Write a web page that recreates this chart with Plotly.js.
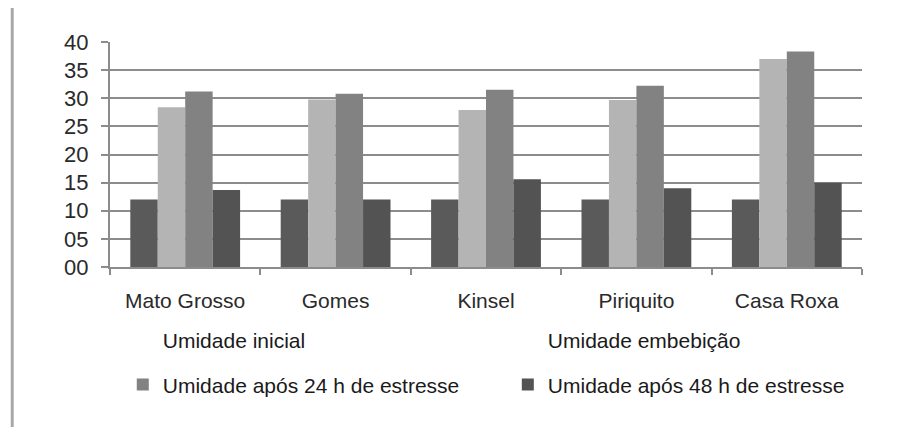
<!DOCTYPE html>
<html>
<head>
<meta charset="utf-8">
<script src="https://cdn.plot.ly/plotly-3.0.1.min.js"></script>
<style>html,body{margin:0;padding:0;background:#fff;}</style>
</head>
<body>
<div id="chart" style="width:915px;height:427px;"></div>
<script>
const categories = ["Mato Grosso", "Gomes", "Kinsel", "Piriquito", "Casa Roxa"];
const seriesNames = ["Umidade inicial", "Umidade embebição", "Umidade após 24 h de estresse", "Umidade após 48 h de estresse"];
const umidadeInicial = [12.0, 12.0, 12.0, 12.0, 12.0];
const umidadeEmbebicao = [28.4, 29.8, 27.9, 29.7, 37.0];
const umidade24h = [31.2, 30.8, 31.5, 32.2, 38.3];
const umidade48h = [13.7, 12.0, 15.6, 14.0, 15.0];
const yTickVals = [0, 5, 10, 15, 20, 25, 30, 35, 40];
const yTickText = ["00", "05", "10", "15", "20", "25", "30", "35", "40"];

const colors = ["#5a5a5a", "#b4b4b4", "#828282", "#535353"];
const font = "Liberation Sans, Arial, sans-serif";
const legendIds = ["legend", "legend2", "legend3", "legend4"];

const seriesValues = [umidadeInicial, umidadeEmbebicao, umidade24h, umidade48h];
const traces = seriesValues.map((vals, i) => ({
  type: "bar",
  x: categories,
  y: vals,
  name: seriesNames[i],
  marker: {color: colors[i], line: {width: 0}},
  showlegend: i >= 2,
  legend: legendIds[i],
  hoverinfo: "x+y+name"
}));
// legend-only entries (no symbol) for the first two series, as in the reference
for (let i = 0; i < 2; i++) {
  traces.push({
    type: "scatter",
    mode: "none",
    x: [null],
    y: [null],
    name: seriesNames[i],
    showlegend: true,
    legend: legendIds[i],
    hoverinfo: "skip"
  });
}

function legendAt(x, y) {
  return {
    orientation: "h",
    x: x, xanchor: "left",
    y: y, yanchor: "middle",
    font: {family: font, size: 21, color: "#1a1a1a"},
    bgcolor: "rgba(0,0,0,0)"
  };
}

const layout = {
  width: 915,
  height: 427,
  margin: {l: 110, r: 53, t: 42, b: 160},
  paper_bgcolor: "#ffffff",
  plot_bgcolor: "#ffffff",
  font: {family: font, size: 21, color: "#2a2a2a"},
  barmode: "group",
  bargap: 0.27,
  bargroupgap: 0,
  xaxis: {
    type: "category",
    showline: true,
    linecolor: "#8c8c8c",
    linewidth: 2,
    ticks: "outside",
    tickson: "boundaries",
    ticklen: 6,
    tickcolor: "#8c8c8c",
    tickwidth: 2,
    showgrid: false,
    ticklabelstandoff: 14,
    tickfont: {family: font, size: 21, color: "#2a2a2a"}
  },
  yaxis: {
    range: [0, 40],
    tickvals: yTickVals,
    ticktext: yTickText,
    showline: true,
    linecolor: "#8c8c8c",
    linewidth: 2,
    ticks: "outside",
    ticklen: 7,
    tickcolor: "#8c8c8c",
    tickwidth: 2,
    showgrid: true,
    gridcolor: "#8c8c8c",
    gridwidth: 2,
    zeroline: false,
    ticklabelstandoff: 8,
    tickfont: {family: font, size: 22, color: "#2a2a2a"}
  },
  legend: legendAt(0.017, -0.324),
  legend2: legendAt(0.529, -0.324),
  legend3: legendAt(0.017, -0.524),
  legend4: legendAt(0.529, -0.524),
  shapes: [{
    type: "line",
    xref: "paper", yref: "paper",
    x0: -0.130, x1: -0.130,
    y0: 1.151, y1: -0.72,
    line: {color: "#a8a8a8", width: 3}
  }]
};

Plotly.newPlot("chart", traces, layout, {displayModeBar: false, staticPlot: true});
</script>
</body>
</html>
